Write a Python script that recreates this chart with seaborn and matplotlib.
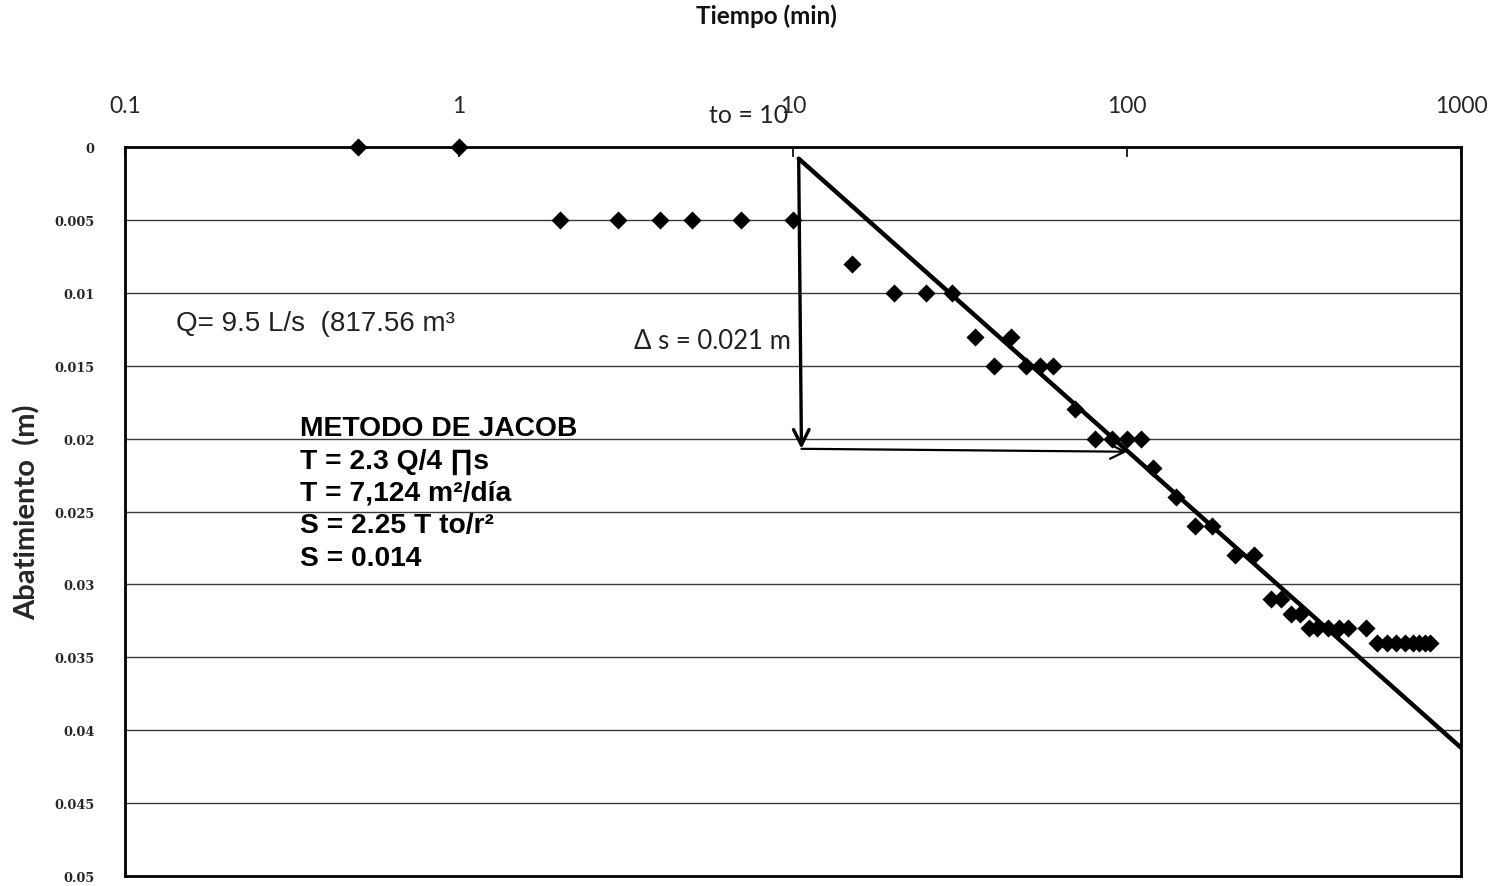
import matplotlib
matplotlib.use("Agg")
import matplotlib.pyplot as plt
import seaborn as sns
import pandas as pd
import numpy as np

# ---- data ----
tiempo_min = [0.5, 1, 2, 3, 4, 5, 7, 10, 15, 20, 25, 30, 35, 40, 45, 50, 55, 60,
              70, 80, 90, 100, 110, 120, 140, 160, 180, 210, 240, 270, 290, 310, 330,
              350, 370, 400, 430, 460, 520, 560, 600, 640, 680, 720, 750, 780, 810]
abatimiento_m = [0, 0, 0.005, 0.005, 0.005, 0.005, 0.005, 0.005,
                 0.008, 0.010, 0.010, 0.010, 0.013, 0.015, 0.013, 0.015, 0.015, 0.015,
                 0.018, 0.020, 0.020, 0.020, 0.020, 0.022,
                 0.024, 0.026, 0.026, 0.028, 0.028,
                 0.031, 0.031, 0.032, 0.032,
                 0.033, 0.033, 0.033, 0.033, 0.033, 0.033,
                 0.034, 0.034, 0.034, 0.034, 0.034, 0.034, 0.034, 0.034]

# Jacob straight-line fit
recta_t = [10.4, 1000]
recta_s = [0.0008, 0.0412]

# delta-s construction arrows
flecha_v_t = [10.4, 10.6]
flecha_v_s = [0.0008, 0.0207]
flecha_h_t = [10.6, 100]
flecha_h_s = [0.0207, 0.0209]

x_ticks = [0.1, 1, 10, 100, 1000]
x_tick_labels = ["0.1", "1", "10", "100", "1000"]
y_ticks = [0, 0.005, 0.01, 0.015, 0.02, 0.025, 0.03, 0.035, 0.04, 0.045, 0.05]
y_tick_labels = ["0", "0.005", "0.01", "0.015", "0.02", "0.025", "0.03", "0.035",
                 "0.04", "0.045", "0.05"]

texto_q = "Q= 9.5 L/s  (817.56 m\u00b3"
texto_ds = "\u0394 s = 0.021 m"
texto_to = "to = 10"
lineas_jacob = ["METODO DE JACOB", "T = 2.3 Q/4 \u220fs", "T = 7,124 m\u00b2/d\u00eda",
                "S = 2.25 T to/r\u00b2", "S = 0.014"]

df = pd.DataFrame({"t": tiempo_min, "s": abatimiento_m})
df_recta = pd.DataFrame({"t": recta_t, "s": recta_s})

sns.set_theme(style="white")
plt.rcParams["font.family"] = ["Lato", "DejaVu Sans"]

fig = plt.figure(figsize=(14.89, 8.87), dpi=100)
ax = fig.add_axes([125 / 1489, 1 - 877 / 887, (1461 - 125) / 1489, (877 - 148) / 887])

sns.lineplot(data=df_recta, x="t", y="s", ax=ax, color="black", linewidth=3.2,
             sort=False, estimator=None)
sns.scatterplot(data=df, x="t", y="s", ax=ax, marker="D", s=85, color="black",
                edgecolor="black", linewidth=0, zorder=5, clip_on=False)

ax.set_xscale("log")
ax.set_xlim(0.1, 1000)
ax.set_ylim(0.05, 0)

# gridlines
ax.set_yticks(y_ticks)
ax.set_yticklabels(y_tick_labels, fontfamily="DejaVu Serif", fontweight="bold",
                   fontsize=9.3)
ax.yaxis.grid(True, color="#3a3a3a", linewidth=1.0)
ax.xaxis.grid(False)
ax.set_axisbelow(True)

ax.xaxis.tick_top()
ax.set_xticks(x_ticks)
ax.set_xticklabels(x_tick_labels, fontsize=16.5)
ax.xaxis.set_minor_locator(matplotlib.ticker.NullLocator())
ax.tick_params(axis="x", which="major", direction="in", length=7, width=1.2,
               color="black", pad=22, top=True, bottom=False)
ax.tick_params(axis="y", which="major", length=0, pad=22, left=True)

for sp in ax.spines.values():
    sp.set_color("black")
    sp.set_linewidth(2.0)
    sp.set_visible(True)

ax.set_xlabel("")
fig.text(766 / 1489, 1 - 16 / 887, "Tiempo (min)", fontsize=17.5, fontweight="bold",
         ha="center", va="center", color="#111111")
ax.set_ylabel("Abatimiento  (m)", fontsize=21, fontweight="bold", labelpad=10)

# arrows
ax.annotate("", xy=(flecha_v_t[1], flecha_v_s[1]), xytext=(flecha_v_t[0], flecha_v_s[0]),
            arrowprops=dict(arrowstyle="->", color="black", lw=2.4,
                            mutation_scale=28, shrinkA=0, shrinkB=0))
ax.annotate("", xy=(flecha_h_t[1], flecha_h_s[1]), xytext=(flecha_h_t[0], flecha_h_s[0]),
            arrowprops=dict(arrowstyle="->", color="black", lw=1.6,
                            mutation_scale=26, shrinkA=0, shrinkB=0))

# texts
ax.text(0.142, 0.0121, texto_q, fontsize=20, family=["Liberation Sans", "DejaVu Sans"],
        va="center", ha="left", color="#222222")
ax.text(3.34, 0.0133, texto_ds, fontsize=18.5, family=["Lato", "DejaVu Sans"],
        va="center", ha="left", color="#222222")
ax.text(5.6, -0.0022, texto_to, fontsize=18, family=["Lato", "DejaVu Sans"],
        va="center", ha="left", color="#222222", clip_on=False)

jacob_s = [0.0193, 0.0215, 0.0237, 0.0259, 0.0282]
for linea, yy in zip(lineas_jacob, jacob_s):
    ax.text(0.334, yy, linea, fontsize=20.3, fontweight="bold",
            family=["Liberation Sans", "DejaVu Sans"], va="center", ha="left",
            color="black")

fig.savefig("out.png", dpi=100)
